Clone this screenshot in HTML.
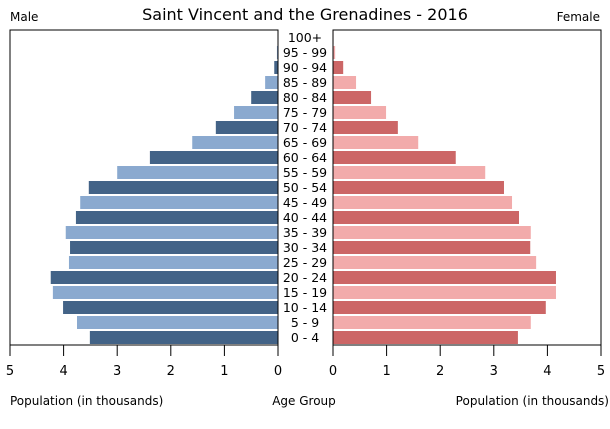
<!DOCTYPE html>
<html><head><meta charset="utf-8"><style>
body{margin:0;background:#fff;font-family:"DejaVu Sans","Liberation Sans",sans-serif;}
svg text{font-family:"DejaVu Sans","Liberation Sans",sans-serif;fill:#000}
</style></head><body>
<svg id="c" width="610" height="425" xmlns="http://www.w3.org/2000/svg">
<text x="305" y="20" font-size="16" text-anchor="middle">Saint Vincent and the Grenadines - 2016</text>
<text x="10" y="21" font-size="12">Male</text>
<text x="600" y="21" font-size="12" text-anchor="end">Female</text>
<text x="10" y="405" font-size="12">Population (in thousands)</text>
<text x="304" y="405" font-size="12" text-anchor="middle">Age Group</text>
<text x="609" y="405" font-size="12" text-anchor="end">Population (in thousands)</text>
<g id="g"></g>
</svg>
<script>
const ageGroups=["0 - 4","5 - 9","10 - 14","15 - 19","20 - 24","25 - 29","30 - 34","35 - 39","40 - 44","45 - 49","50 - 54","55 - 59","60 - 64","65 - 69","70 - 74","75 - 79","80 - 84","85 - 89","90 - 94","95 - 99","100+"];
const maleValues=[3.51,3.75,4.01,4.20,4.24,3.90,3.88,3.96,3.77,3.69,3.53,3.00,2.39,1.60,1.16,0.82,0.50,0.24,0.07,0.02,0.005];
const femaleValues=[3.45,3.69,3.97,4.16,4.16,3.79,3.68,3.69,3.47,3.34,3.19,2.84,2.29,1.59,1.21,0.99,0.71,0.43,0.19,0.04,0.01];
const tickLabels=[0,1,2,3,4,5];
const NS="http://www.w3.org/2000/svg";
const gRoot=document.getElementById('g');
const L0=278,L5=10,R0=333,R5=601,yTop=30,yBot=345,maxV=5;
const xm=v=>L0-(L0-L5)*v/maxV, xf=v=>R0+(R5-R0)*v/maxV;
const step=(yBot-yTop)/ageGroups.length;
const yb=i=>yBot-step*(i+1);
function el(t,a){const e=document.createElementNS(NS,t);for(const k in a)e.setAttribute(k,a[k]);gRoot.appendChild(e);return e;}
ageGroups.forEach((a,i)=>{
  const y=yb(i)+1,h=step-2,dark=i%2==0;
  let r=el('rect',{x:xm(maleValues[i]),y:y,width:L0-xm(maleValues[i]),height:h,fill:dark?'#436387':'#8aa9cf'});
  
  
  r=el('rect',{x:R0,y:y,width:xf(femaleValues[i])-R0,height:h,fill:dark?'#cc6666':'#f2abab'});
  
  
  const t=el('text',{x:305,y:yb(i)+step/2+4.5,'font-size':12.5,'text-anchor':'middle'});
  t.textContent=a;
  
  
});
[[L5,L0],[R0,R5]].forEach((p,j)=>{
  const b=el('rect',{x:p[0],y:yTop,width:p[1]-p[0],height:yBot-yTop,fill:'none',stroke:'#000','stroke-width':1});
  
  
});
tickLabels.forEach(v=>{
  [xm(v),xf(v)].forEach((x,j)=>{
    const l=el('line',{x1:x,x2:x,y1:yBot,y2:yBot+11,stroke:'#000'});
    
    
    const t=el('text',{x:x,y:yBot+30,'font-size':13,'text-anchor':'middle'});
    t.textContent=v;
    
    
  });
});
</script>
</body></html>
